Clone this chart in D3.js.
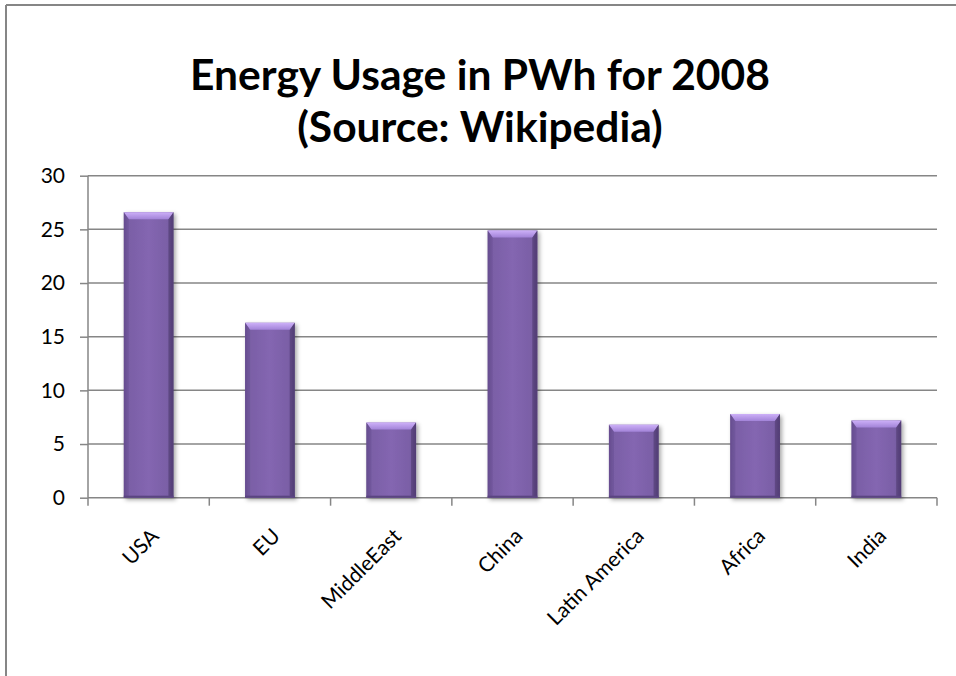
<!DOCTYPE html>
<html>
<head>
<meta charset="utf-8">
<script src="https://cdn.jsdelivr.net/npm/d3@7"></script>
<style>
  html, body { margin: 0; padding: 0; background: #fff; }
  svg { display: block; }
  text { font-family: Lato, "Open Sans", "Noto Sans", sans-serif; fill: #000; }
</style>
</head>
<body>
<svg id="chart" width="956" height="676"></svg>
<script>
// Energy usage by region, 2008 (PWh)
const categories = ["USA", "EU", "MiddleEast", "China", "Latin America", "Africa", "India"];
const usage = [26.6, 16.3, 7.0, 24.9, 6.8, 7.8, 7.2];
const yTicks = [0, 5, 10, 15, 20, 25, 30];
const titleLines = ["Energy Usage in PWh for 2008", "(Source: Wikipedia)"];

const W = 956, H = 676;
const plot = { left: 88, right: 937, top: 175.7, bottom: 497.7 };

const svg = d3.select("#chart");
const defs = svg.append("defs");

// Bar body: darker edges, lighter centre
const body = defs.append("linearGradient").attr("id", "barBody")
  .attr("x1", "0").attr("x2", "1").attr("y1", "0").attr("y2", "0");
[[0, "#634a88"], [0.1, "#7a5fa6"], [0.5, "#8466b1"], [0.88, "#7a5fa6"], [1, "#56407a"]]
  .forEach(([o, c]) => body.append("stop").attr("offset", o).attr("stop-color", c));

const topBevel = defs.append("linearGradient").attr("id", "barTop")
  .attr("x1", "0").attr("x2", "0").attr("y1", "0").attr("y2", "1");
[[0, "#cdb0f8"], [1, "#a283d8"]]
  .forEach(([o, c]) => topBevel.append("stop").attr("offset", o).attr("stop-color", c));

const shadow = defs.append("filter").attr("id", "barShadow")
  .attr("x", "-20%").attr("y", "-5%").attr("width", "140%").attr("height", "115%");
shadow.append("feDropShadow").attr("dx", 2).attr("dy", 2).attr("stdDeviation", 2)
  .attr("flood-color", "#000").attr("flood-opacity", 0.35);

// Chart-area frame (only top and left edges fall inside the page)
svg.append("line").attr("x1", 6).attr("x2", W).attr("y1", 5).attr("y2", 5)
  .attr("stroke", "#868686").attr("stroke-width", 2);
svg.append("line").attr("x1", 6).attr("x2", 6).attr("y1", 5).attr("y2", H)
  .attr("stroke", "#868686").attr("stroke-width", 2);

// Title
const title = svg.append("g");
titleLines.forEach((t, i) => {
  title.append("text")
    .attr("x", 480).attr("y", 90 + i * 52)
    .attr("text-anchor", "middle")
    .style("font-weight", "bold")
    .style("font-size", "40px")
    .text(t);
});
// fit first line to its intended width
const firstW = title.select("text").node().getComputedTextLength();
const fs = 40 * 580 / firstW;
title.selectAll("text").style("font-size", fs + "px");

const x = d3.scaleBand().domain(categories)
  .range([plot.left, plot.right]).paddingInner(0.59).paddingOuter(0.295);
const y = d3.scaleLinear().domain([0, 30]).range([plot.bottom, plot.top]);

// Gridlines + y axis
const yAxis = svg.append("g").attr("transform", `translate(${plot.left},0)`)
  .call(d3.axisLeft(y).tickValues(yTicks).tickSize(8).tickPadding(15).tickFormat(d3.format("d")));
yAxis.select(".domain").remove();
yAxis.selectAll(".tick line").attr("stroke", "#868686").attr("stroke-width", 1.5);
yAxis.selectAll(".tick text").style("font-size", "21px").style("font-family", "Lato, sans-serif");

svg.append("g").selectAll("line").data(yTicks).join("line")
  .attr("x1", plot.left).attr("x2", plot.right)
  .attr("y1", d => y(d)).attr("y2", d => y(d))
  .attr("stroke", "#868686").attr("stroke-width", 1.5);

svg.append("line").attr("x1", plot.left).attr("x2", plot.left)
  .attr("y1", plot.top).attr("y2", plot.bottom)
  .attr("stroke", "#868686").attr("stroke-width", 1.5);

// Category ticks at band boundaries
const step = x.step();
const boundaries = d3.range(categories.length + 1).map(i => plot.left + i * step);
svg.append("g").selectAll("line").data(boundaries).join("line")
  .attr("x1", d => d).attr("x2", d => d)
  .attr("y1", plot.bottom).attr("y2", plot.bottom + 8)
  .attr("stroke", "#868686").attr("stroke-width", 1.5);

// Bars with bevel
const bw = x.bandwidth();
const bev = 7, side = 5;
const bars = svg.append("g").selectAll("g").data(categories.map((c, i) => ({ c, v: usage[i] })))
  .join("g").attr("filter", "url(#barShadow)");
bars.append("rect")
  .attr("x", d => x(d.c)).attr("y", d => y(d.v))
  .attr("width", bw).attr("height", d => y(0) - y(d.v))
  .attr("fill", "url(#barBody)");
bars.append("path")
  .attr("d", d => {
    const x0 = x(d.c), y0 = y(d.v);
    return `M${x0},${y0}L${x0 + bw},${y0}L${x0 + bw - side},${y0 + bev}L${x0 + side},${y0 + bev}Z`;
  })
  .attr("fill", "url(#barTop)");
bars.append("path")
  .attr("d", d => {
    const x0 = x(d.c), y0 = y(d.v), yb = y(0);
    return `M${x0 + bw},${y0}L${x0 + bw},${yb}L${x0 + bw - side},${yb - 2}L${x0 + bw - side},${y0 + bev}Z`;
  })
  .attr("fill", "#4e3a70").attr("opacity", 0.55);
bars.append("path")
  .attr("d", d => {
    const x0 = x(d.c), y0 = y(d.v), yb = y(0);
    return `M${x0},${y0}L${x0},${yb}L${x0 + side},${yb - 2}L${x0 + side},${y0 + bev}Z`;
  })
  .attr("fill", "#6a5096").attr("opacity", 0.5);
bars.append("rect")
  .attr("x", d => x(d.c)).attr("y", y(0) - 2)
  .attr("width", bw).attr("height", 2)
  .attr("fill", "#5a4480");

// Category labels, rotated
svg.append("g").selectAll("text").data(categories).join("text")
  .attr("transform", d => `translate(${x(d) + bw / 2 + 1},${527}) rotate(-45)`)
  .attr("text-anchor", "end")
  .attr("dy", "0.7em")
  .style("font-size", "21px")
  .text(d => d);
</script>
</body>
</html>
